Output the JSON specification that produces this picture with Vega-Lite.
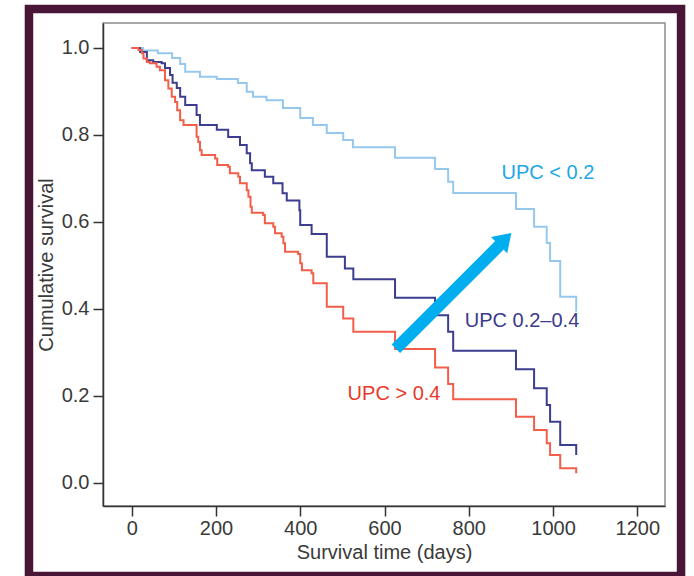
{
  "$schema": "https://vega.github.io/schema/vega-lite/v6.json",
  "width": 562,
  "height": 483,
  "autosize": {"type": "none"},
  "padding": {"left": 103, "top": 23, "right": 29, "bottom": 70},
  "background": "white",
  "config": {
    "view": {"stroke": "#8c8c8c", "strokeWidth": 1.5},
    "font": "Liberation Sans"
  },
  "encoding": {
    "x": {
      "field": "x", "type": "quantitative",
      "scale": {"domain": [-68.1, 1265.7], "nice": false, "zero": false},
      "axis": {
        "title": "Survival time (days)", "values": [0, 200, 400, 600, 800, 1000, 1200], "format": "d",
        "grid": false, "domainColor": "#333333", "domainWidth": 1.5, "tickColor": "#333333", "tickWidth": 1.5,
        "tickSize": 10, "labelFontSize": 20, "labelColor": "#3a3a3a", "labelPadding": 2, "labelFont": "Liberation Sans",
        "labelFlush": false, "labelOverlap": false,
        "titleFont": "Liberation Sans", "titleFontSize": 20, "titleFontWeight": "normal", "titleColor": "#3a3a3a", "titlePadding": 4
      }
    },
    "y": {
      "field": "y", "type": "quantitative",
      "scale": {"domain": [-0.0536, 1.0575], "nice": false, "zero": false},
      "axis": {
        "title": "Cumulative survival", "values": [0, 0.2, 0.4, 0.6, 0.8, 1.0], "format": ".1f",
        "grid": false, "domainColor": "#333333", "domainWidth": 1.5, "tickColor": "#333333", "tickWidth": 1.5,
        "tickSize": 10, "labelFontSize": 20, "labelColor": "#3a3a3a", "labelPadding": 4, "labelFont": "Liberation Sans",
        "labelFlush": false, "labelOverlap": false,
        "titleFont": "Liberation Sans", "titleFontSize": 20, "titleFontWeight": "normal", "titleColor": "#3a3a3a", "titlePadding": 5
      }
    }
  },
  "layer": [
    {
      "data": {"values": [{"x": -243.8, "x2": 1303.8, "y": 1.0897, "y2": -0.2146}]},
      "mark": {"type": "rect", "filled": false, "color": "#4a1637", "stroke": "#4a1637", "strokeWidth": 8.5},
      "encoding": {"x2": {"field": "x2"}, "y2": {"field": "y2"}}
    },
    {
      "data": {"values": [
        {"g": "lo", "x": 0, "y": 1.0},
        {"g": "lo", "x": 27, "y": 0.994},
        {"g": "lo", "x": 62, "y": 0.988},
        {"g": "lo", "x": 96, "y": 0.977},
        {"g": "lo", "x": 115, "y": 0.963},
        {"g": "lo", "x": 127, "y": 0.9455},
        {"g": "lo", "x": 162, "y": 0.934},
        {"g": "lo", "x": 202, "y": 0.9287},
        {"g": "lo", "x": 252, "y": 0.9195},
        {"g": "lo", "x": 273, "y": 0.8995},
        {"g": "lo", "x": 288, "y": 0.888},
        {"g": "lo", "x": 320, "y": 0.88},
        {"g": "lo", "x": 359, "y": 0.862},
        {"g": "lo", "x": 400, "y": 0.839},
        {"g": "lo", "x": 430, "y": 0.8229},
        {"g": "lo", "x": 463, "y": 0.8045},
        {"g": "lo", "x": 502, "y": 0.7884},
        {"g": "lo", "x": 525, "y": 0.7716},
        {"g": "lo", "x": 625, "y": 0.7476},
        {"g": "lo", "x": 720, "y": 0.7216},
        {"g": "lo", "x": 751, "y": 0.6924},
        {"g": "lo", "x": 763, "y": 0.6664},
        {"g": "lo", "x": 912, "y": 0.6296},
        {"g": "lo", "x": 955, "y": 0.5889},
        {"g": "lo", "x": 985, "y": 0.5514},
        {"g": "lo", "x": 993, "y": 0.51},
        {"g": "lo", "x": 1017, "y": 0.4279},
        {"g": "lo", "x": 1055, "y": 0.3934},

        {"g": "mid", "x": 0, "y": 1.0},
        {"g": "mid", "x": 20, "y": 0.991},
        {"g": "mid", "x": 36, "y": 0.972},
        {"g": "mid", "x": 51, "y": 0.968},
        {"g": "mid", "x": 71, "y": 0.965},
        {"g": "mid", "x": 79, "y": 0.954},
        {"g": "mid", "x": 91, "y": 0.938},
        {"g": "mid", "x": 97, "y": 0.92},
        {"g": "mid", "x": 107, "y": 0.908},
        {"g": "mid", "x": 115, "y": 0.888},
        {"g": "mid", "x": 127, "y": 0.869},
        {"g": "mid", "x": 154, "y": 0.846},
        {"g": "mid", "x": 162, "y": 0.823},
        {"g": "mid", "x": 202, "y": 0.812},
        {"g": "mid", "x": 229, "y": 0.795},
        {"g": "mid", "x": 257, "y": 0.777},
        {"g": "mid", "x": 273, "y": 0.758},
        {"g": "mid", "x": 281, "y": 0.735},
        {"g": "mid", "x": 285, "y": 0.719},
        {"g": "mid", "x": 316, "y": 0.704},
        {"g": "mid", "x": 336, "y": 0.689},
        {"g": "mid", "x": 358, "y": 0.666},
        {"g": "mid", "x": 368, "y": 0.649},
        {"g": "mid", "x": 398, "y": 0.627},
        {"g": "mid", "x": 400, "y": 0.593},
        {"g": "mid", "x": 427, "y": 0.572},
        {"g": "mid", "x": 463, "y": 0.52},
        {"g": "mid", "x": 506, "y": 0.493},
        {"g": "mid", "x": 526, "y": 0.468},
        {"g": "mid", "x": 625, "y": 0.4256},
        {"g": "mid", "x": 720, "y": 0.385},
        {"g": "mid", "x": 751, "y": 0.347},
        {"g": "mid", "x": 763, "y": 0.3037},
        {"g": "mid", "x": 912, "y": 0.261},
        {"g": "mid", "x": 955, "y": 0.217},
        {"g": "mid", "x": 985, "y": 0.179},
        {"g": "mid", "x": 993, "y": 0.14},
        {"g": "mid", "x": 1017, "y": 0.0867},
        {"g": "mid", "x": 1055, "y": 0.0637},

        {"g": "hi", "x": 0, "y": 1.0},
        {"g": "hi", "x": 16, "y": 0.9954},
        {"g": "hi", "x": 24, "y": 0.988},
        {"g": "hi", "x": 28, "y": 0.976},
        {"g": "hi", "x": 36, "y": 0.968},
        {"g": "hi", "x": 43, "y": 0.965},
        {"g": "hi", "x": 59, "y": 0.957},
        {"g": "hi", "x": 67, "y": 0.949},
        {"g": "hi", "x": 79, "y": 0.926},
        {"g": "hi", "x": 87, "y": 0.907},
        {"g": "hi", "x": 95, "y": 0.888},
        {"g": "hi", "x": 103, "y": 0.876},
        {"g": "hi", "x": 108, "y": 0.857},
        {"g": "hi", "x": 115, "y": 0.834},
        {"g": "hi", "x": 123, "y": 0.823},
        {"g": "hi", "x": 154, "y": 0.796},
        {"g": "hi", "x": 158, "y": 0.784},
        {"g": "hi", "x": 162, "y": 0.765},
        {"g": "hi", "x": 166, "y": 0.754},
        {"g": "hi", "x": 198, "y": 0.746},
        {"g": "hi", "x": 203, "y": 0.731},
        {"g": "hi", "x": 229, "y": 0.727},
        {"g": "hi", "x": 233, "y": 0.712},
        {"g": "hi", "x": 253, "y": 0.704},
        {"g": "hi", "x": 257, "y": 0.689},
        {"g": "hi", "x": 273, "y": 0.673},
        {"g": "hi", "x": 277, "y": 0.658},
        {"g": "hi", "x": 282, "y": 0.635},
        {"g": "hi", "x": 285, "y": 0.621},
        {"g": "hi", "x": 312, "y": 0.616},
        {"g": "hi", "x": 316, "y": 0.597},
        {"g": "hi", "x": 336, "y": 0.589},
        {"g": "hi", "x": 340, "y": 0.574},
        {"g": "hi", "x": 356, "y": 0.566},
        {"g": "hi", "x": 360, "y": 0.551},
        {"g": "hi", "x": 364, "y": 0.531},
        {"g": "hi", "x": 395, "y": 0.526},
        {"g": "hi", "x": 400, "y": 0.505},
        {"g": "hi", "x": 404, "y": 0.489},
        {"g": "hi", "x": 427, "y": 0.482},
        {"g": "hi", "x": 431, "y": 0.459},
        {"g": "hi", "x": 463, "y": 0.405},
        {"g": "hi", "x": 502, "y": 0.378},
        {"g": "hi", "x": 526, "y": 0.347},
        {"g": "hi", "x": 625, "y": 0.3076},
        {"g": "hi", "x": 720, "y": 0.265},
        {"g": "hi", "x": 751, "y": 0.227},
        {"g": "hi", "x": 763, "y": 0.192},
        {"g": "hi", "x": 912, "y": 0.152},
        {"g": "hi", "x": 955, "y": 0.121},
        {"g": "hi", "x": 985, "y": 0.0906},
        {"g": "hi", "x": 993, "y": 0.0637},
        {"g": "hi", "x": 1017, "y": 0.0331},
        {"g": "hi", "x": 1055, "y": 0.0216}
      ]},
      "mark": {"type": "line", "interpolate": "step-after", "strokeWidth": 2},
      "encoding": {
        "color": {
          "field": "g", "type": "nominal",
          "scale": {"domain": ["lo", "mid", "hi"], "range": ["#96c8ee", "#3d3d8f", "#f25e4a"]},
          "legend": null
        }
      }
    },
    {
      "data": {"values": [{"x": 627, "y": 0.308, "x2": 880, "y2": 0.553}]},
      "mark": {"type": "rule", "color": "#00aeef", "strokeWidth": 12},
      "encoding": {"x2": {"field": "x2"}, "y2": {"field": "y2"}}
    },
    {
      "data": {"values": [{"x": 886.5, "y": 0.5606}]},
      "mark": {"type": "point", "shape": "M0,-0.75L1,0.75L-1,0.75Z", "angle": 45, "size": 529, "filled": true, "color": "#00aeef", "opacity": 1}
    },
    {
      "data": {"values": [{"x": 988, "y": 0.713, "t": "UPC < 0.2"}]},
      "mark": {"type": "text", "fontSize": 20, "align": "center", "baseline": "middle", "color": "#1ea7e6", "font": "Liberation Sans"},
      "encoding": {"text": {"field": "t"}}
    },
    {
      "data": {"values": [{"x": 926.4, "y": 0.3727, "t": "UPC 0.2–0.4"}]},
      "mark": {"type": "text", "fontSize": 20, "align": "center", "baseline": "middle", "color": "#3c3a8c", "font": "Liberation Sans"},
      "encoding": {"text": {"field": "t"}}
    },
    {
      "data": {"values": [{"x": 622.6, "y": 0.204, "t": "UPC > 0.4"}]},
      "mark": {"type": "text", "fontSize": 20, "align": "center", "baseline": "middle", "color": "#e8392a", "font": "Liberation Sans"},
      "encoding": {"text": {"field": "t"}}
    }
  ]
}
